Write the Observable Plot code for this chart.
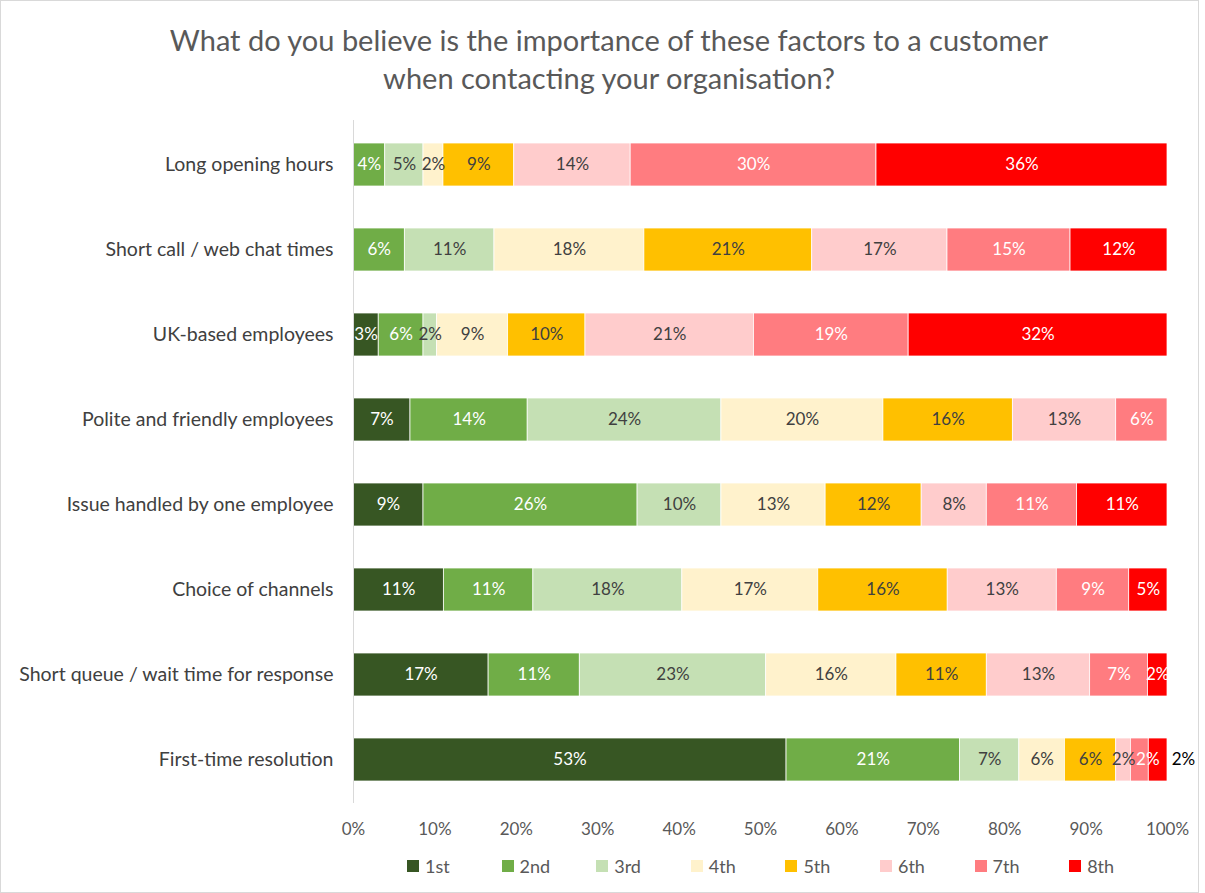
<!DOCTYPE html>
<html>
<head>
<meta charset="utf-8">
<script src="https://cdn.jsdelivr.net/npm/d3@7"></script>
<script src="https://cdn.jsdelivr.net/npm/@observablehq/plot@0.6"></script>
<style>
  html, body { margin: 0; padding: 0; background: #fff; }
  body { width: 1205px; height: 893px; position: relative; overflow: hidden; font-family: Lato, "Open Sans", sans-serif; }
  #frame { position: absolute; left: 0; top: 0; width: 1197px; height: 891px; border: 1px solid #d9d9d9; pointer-events: none; z-index: 10; }
  #title { position: absolute; left: 0; top: 21px; width: 1218px; text-align: center; font-size: 29px; line-height: 38px; color: #595959; }
  #chart { position: absolute; left: 0; top: 105px; }
  #legend { position: absolute; left: 407px; top: 855px; display: flex; font-size: 18px; color: #595959; }
  #legend .item { width: 94.6px; display: flex; align-items: center; }
  #legend .sw { width: 12px; height: 12px; margin-right: 6px; }
  [aria-label^="y-axis"] text { fill: #404040; font-size: 19.5px; }
  [aria-label^="x-axis"] text { fill: #595959; font-size: 17px; }
</style>
</head>
<body>
<div id="title">What do you believe is the importance of these factors to a customer<br>when contacting your organisation?</div>
<div id="chart"></div>
<div id="legend"></div>
<div id="frame"></div>
<script>
const factors = [
  "Long opening hours",
  "Short call / web chat times",
  "UK-based employees",
  "Polite and friendly employees",
  "Issue handled by one employee",
  "Choice of channels",
  "Short queue / wait time for response",
  "First-time resolution"
];
const ranks = ["1st", "2nd", "3rd", "4th", "5th", "6th", "7th", "8th"];
// Share (%) of each rank, one array per rank, in the order of `factors`
const r1st = [0,    0,    3.1,  7.0,  8.6,  11.1, 16.6, 53.2];
const r2nd = [3.9,  6.3,  5.5,  14.4, 26.3, 11.0, 11.2, 21.3];
const r3rd = [4.7,  11.0, 1.65, 23.8, 10.3, 18.3, 22.9, 7.3];
const r4th = [2.45, 18.4, 8.75, 19.9, 12.8, 16.7, 16.0, 5.6];
const r5th = [8.7,  20.6, 9.5,  15.9, 11.8, 15.9, 11.1, 6.3];
const r6th = [14.3, 16.6, 20.7, 12.7, 8.0,  13.4, 12.7, 1.8];
const r7th = [30.2, 15.1, 19.0, 6.3,  11.1, 8.9,  7.1,  2.2];
const r8th = [35.75,11.9, 31.8, 0,    11.1, 4.7,  2.4,  2.3];
const series = [r1st, r2nd, r3rd, r4th, r5th, r6th, r7th, r8th];
const xTicks = [0, 0.1, 0.2, 0.3, 0.4, 0.5, 0.6, 0.7, 0.8, 0.9, 1];

const colors = ["#375623", "#70AD47", "#C5E0B4", "#FFF2CC", "#FFC000", "#FFCCCC", "#FF7C80", "#FF0000"];
const textColors = ["#ffffff", "#ffffff", "#404040", "#404040", "#404040", "#404040", "#ffffff", "#ffffff"];
const colorOf = Object.fromEntries(ranks.map((r, i) => [r, colors[i]]));
const textOf = Object.fromEntries(ranks.map((r, i) => [r, textColors[i]]));

const data = factors.flatMap((f, i) => ranks.map((r, j) => ({factor: f, rank: r, value: series[j][i]})))
  .filter(d => d.value > 0);
const isOutside = d => d.factor === "First-time resolution" && d.rank === "8th";
const isShifted = d => d.factor === "First-time resolution" && d.rank === "7th";
const label = d => Math.round(d.value) + "%";
const stackOpts = {x: "value", y: "factor", z: "rank", offset: "normalize"};

const chart = Plot.plot({
  width: 1205,
  height: 740,
  marginLeft: 353,
  marginRight: 38,
  marginTop: 15,
  marginBottom: 42,
  style: {fontFamily: "Lato, 'Open Sans', sans-serif", fontSize: "17px", color: "#595959", background: "white", overflow: "visible"},
  x: {domain: [0, 1], ticks: xTicks, tickFormat: d3.format(".0%"), tickSize: 0, tickPadding: 19, label: null},
  y: {domain: factors, paddingInner: 0.5, paddingOuter: 0.25, tickSize: 0, tickPadding: 20, label: null},
  marks: [
    Plot.barX(data, Plot.stackX({...stackOpts, fill: d => colorOf[d.rank], stroke: "white", strokeWidth: 0.75})),
    Plot.ruleX([0], {stroke: "#d9d9d9", strokeWidth: 1}),
    Plot.text(data, Plot.stackX({...stackOpts,
      text: d => (isOutside(d) || isShifted(d)) ? "" : label(d), fill: d => textOf[d.rank], fontSize: 17})),
    Plot.text(data, Plot.stackX({...stackOpts,
      text: d => isShifted(d) ? label(d) : "", fill: "white", dx: 8, fontSize: 17})),
    Plot.text(data, Plot.stackX2({...stackOpts,
      text: d => isOutside(d) ? label(d) : "", fill: "black", dx: 16, fontSize: 17}))
  ]
});
document.getElementById("chart").appendChild(chart);

const legend = document.getElementById("legend");
ranks.forEach((r, i) => {
  const item = document.createElement("div");
  item.className = "item";
  const sw = document.createElement("span");
  sw.className = "sw";
  sw.style.background = colors[i];
  const t = document.createElement("span");
  t.textContent = r;
  item.appendChild(sw);
  item.appendChild(t);
  legend.appendChild(item);
});
</script>
</body>
</html>
